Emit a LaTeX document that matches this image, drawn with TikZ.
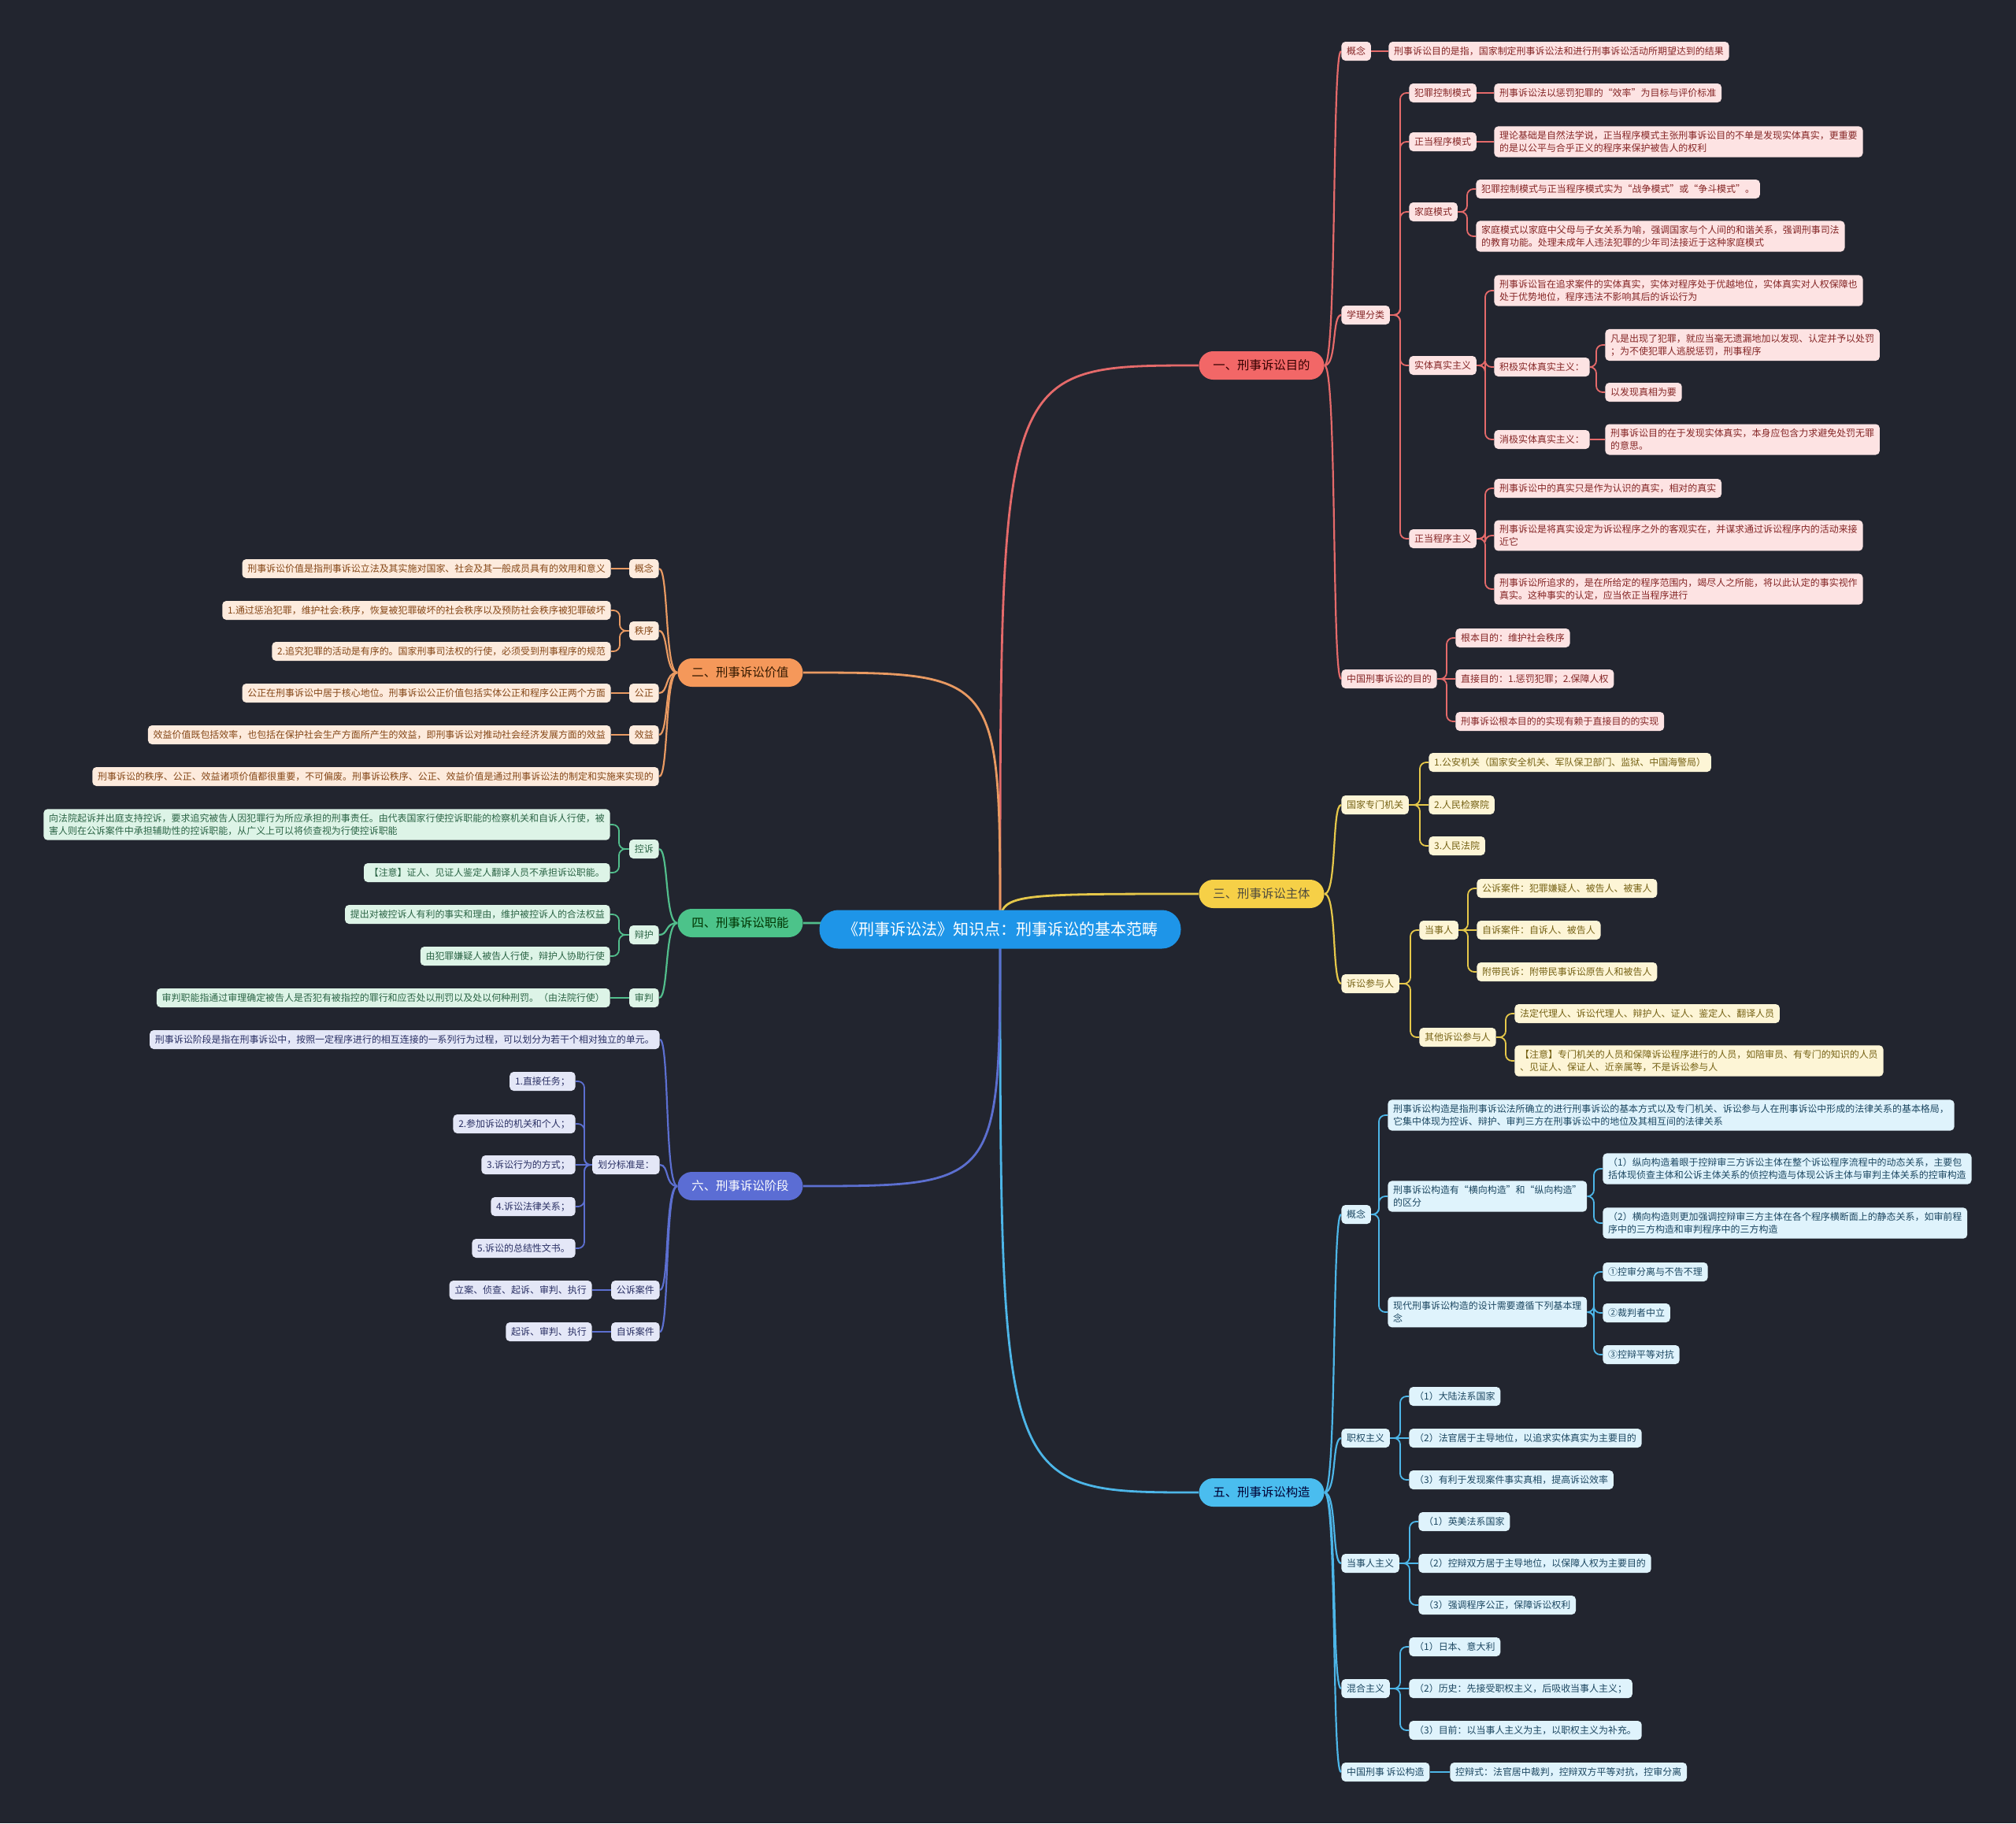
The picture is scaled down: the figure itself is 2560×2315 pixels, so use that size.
\documentclass[tikz,border=0pt]{standalone}
\usepackage{fontspec}
\setmainfont{Noto Sans CJK SC}
\usetikzlibrary{calc}
\pgfdeclarelayer{back}
\pgfdeclarelayer{bg}
\pgfsetlayers{back,bg,main}
\definecolor{bgc}{HTML}{22252F}
\definecolor{rootc}{HTML}{1E95E8}
\definecolor{rmain}{HTML}{F26767}\definecolor{rfill}{HTML}{FDE3E3}\definecolor{rtext}{HTML}{852626}\definecolor{rline}{HTML}{E56A6A}
\definecolor{omain}{HTML}{F5985A}\definecolor{ofill}{HTML}{FDEBDD}\definecolor{otext}{HTML}{854717}\definecolor{oline}{HTML}{E99A62}
\definecolor{ymain}{HTML}{F6D047}\definecolor{yfill}{HTML}{FDF5D6}\definecolor{ytext}{HTML}{766215}\definecolor{yline}{HTML}{E6C84A}
\definecolor{gmain}{HTML}{4CC38A}\definecolor{gfill}{HTML}{DDF4E7}\definecolor{gtext}{HTML}{2B6445}\definecolor{gline}{HTML}{52BE8C}
\definecolor{bmain}{HTML}{4ABDEF}\definecolor{bfill}{HTML}{DFF3FC}\definecolor{btext}{HTML}{1C4761}\definecolor{bline}{HTML}{4DB6E8}
\definecolor{pmain}{HTML}{5B6DD4}\definecolor{pfill}{HTML}{E4E7F7}\definecolor{ptext}{HTML}{2A3064}\definecolor{pline}{HTML}{5C6FD0}
\tikzset{
  lf/.style={rounded corners=2.5pt, inner xsep=3.4pt, inner ysep=3pt, minimum height=12pt, align=left, font=\fontsize{5.98}{8}\selectfont},
  rl/.style={lf, fill=rfill, text=rtext},
  ol/.style={lf, fill=ofill, text=otext},
  yl/.style={lf, fill=yfill, text=ytext},
  gl/.style={lf, fill=gfill, text=gtext},
  bl/.style={lf, fill=bfill, text=btext},
  pl/.style={lf, fill=pfill, text=ptext},
  mainnode/.style={rounded corners=9pt, minimum width=79.5pt, minimum height=18pt, inner sep=0pt, font=\fontsize{7.7}{9}\selectfont},
  rootnode/.style={rounded corners=12pt, minimum width=229.5pt, minimum height=24.5pt, inner sep=0pt, fill=rootc, text=white, font=\fontsize{10}{12}\selectfont},
  cn/.style={line width=0.9pt, rounded corners=4pt},
  mc/.style={line width=1.1pt},
  rc/.style={line width=1.4pt}
}
\newcommand\rlnk[3]{\draw[cn,#1] (#2.east) -| ($(#3.west)+(-11,0)$) -- (#3.west);}
\newcommand\llnk[3]{\draw[cn,#1] (#2.west) -| ($(#3.east)+(11,0)$) -- (#3.east);}
\newcommand\rstr[3]{\draw[cn,#1] (#2.east) -- (#3.west);}
\newcommand\lstr[3]{\draw[cn,#1] (#2.west) -- (#3.east);}
\newcommand\rcur[3]{\draw[mc,#1] (#2.east) .. controls +(16,0) and +(-12,0) .. (#3.west);}
\newcommand\lcur[3]{\draw[mc,#1] (#2.west) .. controls +(-16,0) and +(12,0) .. (#3.east);}
\begin{document}
\begin{tikzpicture}[x=0.5pt,y=-0.5pt]
\begin{pgfonlayer}{back}
\fill[bgc] (0,0) rectangle (2560,2315);
\end{pgfonlayer}
\useasboundingbox (0,0) rectangle (2560,2315);

% root and main nodes
\node[rootnode] (root) at (1270,1180) {《刑事诉讼法》知识点：刑事诉讼的基本范畴};
\node[mainnode, fill=rmain, text=black!80!red] (m1) at (1602,464) {一、刑事诉讼目的};
\node[mainnode, fill=omain, text=black!80!orange] (m2) at (940,854) {二、刑事诉讼价值};
\node[mainnode, fill=ymain, text=black!80!yellow] (m3) at (1602,1135) {三、刑事诉讼主体};
\node[mainnode, fill=gmain, text=black!80!green] (m4) at (940,1172) {四、刑事诉讼职能};
\node[mainnode, fill=bmain, text=black!80!blue] (m5) at (1602,1895) {五、刑事诉讼构造};
\node[mainnode, fill=pmain, text=white] (m6) at (940,1506) {六、刑事诉讼阶段};

% ---------- red branch ----------
\node[rl, anchor=west] (r1) at (1703,65) {概念};
\node[rl, anchor=west] (r1a) at (1763,65) {刑事诉讼目的是指，国家制定刑事诉讼法和进行刑事诉讼活动所期望达到的结果};
\node[rl, anchor=west] (r2) at (1703,400) {学理分类};
\node[rl, anchor=west] (r21) at (1789,118) {犯罪控制模式};
\node[rl, anchor=west] (r21a) at (1897,118) {刑事诉讼法以惩罚犯罪的“效率”为目标与评价标准};
\node[rl, anchor=west] (r22) at (1789,180) {正当程序模式};
\node[rl, anchor=west] (r22a) at (1897,180) {理论基础是自然法学说，正当程序模式主张刑事诉讼目的不单是发现实体真实，更重要\\的是以公平与合乎正义的程序来保护被告人的权利};
\node[rl, anchor=west] (r23) at (1789,269) {家庭模式};
\node[rl, anchor=west] (r23a) at (1874,240) {犯罪控制模式与正当程序模式实为“战争模式”或“争斗模式”。};
\node[rl, anchor=west] (r23b) at (1874,300) {家庭模式以家庭中父母与子女关系为喻，强调国家与个人间的和谐关系，强调刑事司法\\的教育功能。处理未成年人违法犯罪的少年司法接近于这种家庭模式};
\node[rl, anchor=west] (r24) at (1789,464) {实体真实主义};
\node[rl, anchor=west] (r24a) at (1897,369) {刑事诉讼旨在追求案件的实体真实，实体对程序处于优越地位，实体真实对人权保障也\\处于优势地位，程序违法不影响其后的诉讼行为};
\node[rl, anchor=west] (r24b) at (1897,466) {积极实体真实主义：};
\node[rl, anchor=west] (r24b1) at (2038,438) {凡是出现了犯罪，就应当毫无遗漏地加以发现、认定并予以处罚\\；为不使犯罪人逃脱惩罚，刑事程序};
\node[rl, anchor=west] (r24b2) at (2038,498) {以发现真相为要};
\node[rl, anchor=west] (r24c) at (1897,558) {消极实体真实主义：};
\node[rl, anchor=west] (r24c1) at (2038,558) {刑事诉讼目的在于发现实体真实，本身应包含力求避免处罚无罪\\的意思。};
\node[rl, anchor=west] (r25) at (1789,684) {正当程序主义};
\node[rl, anchor=west] (r25a) at (1897,620) {刑事诉讼中的真实只是作为认识的真实，相对的真实};
\node[rl, anchor=west] (r25b) at (1897,680) {刑事诉讼是将真实设定为诉讼程序之外的客观实在，并谋求通过诉讼程序内的活动来接\\近它};
\node[rl, anchor=west] (r25c) at (1897,748) {刑事诉讼所追求的，是在所给定的程序范围内，竭尽人之所能，将以此认定的事实视作\\真实。这种事实的认定，应当依正当程序进行};
\node[rl, anchor=west] (r3) at (1703,862) {中国刑事诉讼的目的};
\node[rl, anchor=west] (r3a) at (1848,810) {根本目的：维护社会秩序};
\node[rl, anchor=west] (r3b) at (1848,862) {直接目的：1.惩罚犯罪；2.保障人权};
\node[rl, anchor=west] (r3c) at (1848,916) {刑事诉讼根本目的的实现有赖于直接目的的实现};

% ---------- yellow branch ----------
\node[yl, anchor=west] (y1) at (1703,1022) {国家专门机关};
\node[yl, anchor=west] (y1a) at (1814,968) {1.公安机关（国家安全机关、军队保卫部门、监狱、中国海警局）};
\node[yl, anchor=west] (y1b) at (1814,1022) {2.人民检察院};
\node[yl, anchor=west] (y1c) at (1814,1074) {3.人民法院};
\node[yl, anchor=west] (y2) at (1703,1249) {诉讼参与人};
\node[yl, anchor=west] (y21) at (1802,1181) {当事人};
\node[yl, anchor=west] (y21a) at (1875,1128) {公诉案件：犯罪嫌疑人、被告人、被害人};
\node[yl, anchor=west] (y21b) at (1875,1181) {自诉案件：自诉人、被告人};
\node[yl, anchor=west] (y21c) at (1875,1234) {附带民诉：附带民事诉讼原告人和被告人};
\node[yl, anchor=west] (y22) at (1802,1317) {其他诉讼参与人};
\node[yl, anchor=west] (y22a) at (1923,1287) {法定代理人、诉讼代理人、辩护人、证人、鉴定人、翻译人员};
\node[yl, anchor=west] (y22b) at (1923,1347) {【注意】专门机关的人员和保障诉讼程序进行的人员，如陪审员、有专门的知识的人员\\、见证人、保证人、近亲属等，不是诉讼参与人};

% ---------- blue branch ----------
\node[bl, anchor=west] (b1) at (1703,1542) {概念};
\node[bl, anchor=west] (b1a) at (1762,1416) {刑事诉讼构造是指刑事诉讼法所确立的进行刑事诉讼的基本方式以及专门机关、诉讼参与人在刑事诉讼中形成的法律关系的基本格局，\\它集中体现为控诉、辩护、审判三方在刑事诉讼中的地位及其相互间的法律关系};
\node[bl, anchor=west] (b1b) at (1762,1519) {刑事诉讼构造有“横向构造”和“纵向构造”\\的区分};
\node[bl, anchor=west] (b1b1) at (2035,1484) {（1）纵向构造着眼于控辩审三方诉讼主体在整个诉讼程序流程中的动态关系，主要包\\括体现侦查主体和公诉主体关系的侦控构造与体现公诉主体与审判主体关系的控审构造};
\node[bl, anchor=west] (b1b2) at (2035,1553) {（2）横向构造则更加强调控辩审三方主体在各个程序横断面上的静态关系，如审前程\\序中的三方构造和审判程序中的三方构造};
\node[bl, anchor=west] (b1c) at (1762,1666) {现代刑事诉讼构造的设计需要遵循下列基本理\\念};
\node[bl, anchor=west] (b1c1) at (2035,1615) {①控审分离与不告不理};
\node[bl, anchor=west] (b1c2) at (2035,1667) {②裁判者中立};
\node[bl, anchor=west] (b1c3) at (2035,1720) {③控辩平等对抗};
\node[bl, anchor=west] (b2) at (1703,1826) {职权主义};
\node[bl, anchor=west] (b2a) at (1789,1773) {（1）大陆法系国家};
\node[bl, anchor=west] (b2b) at (1789,1826) {（2）法官居于主导地位，以追求实体真实为主要目的};
\node[bl, anchor=west] (b2c) at (1789,1879) {（3）有利于发现案件事实真相，提高诉讼效率};
\node[bl, anchor=west] (b3) at (1703,1985) {当事人主义};
\node[bl, anchor=west] (b3a) at (1801,1932) {（1）英美法系国家};
\node[bl, anchor=west] (b3b) at (1801,1985) {（2）控辩双方居于主导地位，以保障人权为主要目的};
\node[bl, anchor=west] (b3c) at (1801,2038) {（3）强调程序公正，保障诉讼权利};
\node[bl, anchor=west] (b4) at (1703,2144) {混合主义};
\node[bl, anchor=west] (b4a) at (1789,2091) {（1）日本、意大利};
\node[bl, anchor=west] (b4b) at (1789,2144) {（2）历史：先接受职权主义，后吸收当事人主义；};
\node[bl, anchor=west] (b4c) at (1789,2197) {（3）目前：以当事人主义为主，以职权主义为补充。};
\node[bl, anchor=west] (b5) at (1703,2250) {中国刑事 诉讼构造};
\node[bl, anchor=west] (b5a) at (1841,2250) {控辩式：法官居中裁判，控辩双方平等对抗，控审分离};

% ---------- orange branch ----------
\node[ol, anchor=east] (o1) at (837,722) {概念};
\node[ol, anchor=east] (o1a) at (776,722) {刑事诉讼价值是指刑事诉讼立法及其实施对国家、社会及其一般成员具有的效用和意义};
\node[ol, anchor=east] (o2) at (837,801) {秩序};
\node[ol, anchor=east] (o2a) at (776,775) {1.通过惩治犯罪，维护社会:秩序，恢复被犯罪破坏的社会秩序以及预防社会秩序被犯罪破坏};
\node[ol, anchor=east] (o2b) at (776,827) {2.追究犯罪的活动是有序的。国家刑事司法权的行使，必须受到刑事程序的规范};
\node[ol, anchor=east] (o3) at (837,880) {公正};
\node[ol, anchor=east] (o3a) at (776,880) {公正在刑事诉讼中居于核心地位。刑事诉讼公正价值包括实体公正和程序公正两个方面};
\node[ol, anchor=east] (o4) at (837,933) {效益};
\node[ol, anchor=east] (o4a) at (776,933) {效益价值既包括效率，也包括在保护社会生产方面所产生的效益，即刑事诉讼对推动社会经济发展方面的效益};
\node[ol, anchor=east] (o5) at (837,986) {刑事诉讼的秩序、公正、效益诸项价值都很重要，不可偏废。刑事诉讼秩序、公正、效益价值是通过刑事诉讼法的制定和实施来实现的};

% ---------- green branch ----------
\node[gl, anchor=east] (g1) at (837,1078) {控诉};
\node[gl, anchor=east] (g1a) at (775,1047) {向法院起诉并出庭支持控诉，要求追究被告人因犯罪行为所应承担的刑事责任。由代表国家行使控诉职能的检察机关和自诉人行使，被\\害人则在公诉案件中承担辅助性的控诉职能，从广义上可以将侦查视为行使控诉职能};
\node[gl, anchor=east] (g1b) at (775,1108) {【注意】证人、见证人鉴定人翻译人员不承担诉讼职能。};
\node[gl, anchor=east] (g2) at (837,1187) {辩护};
\node[gl, anchor=east] (g2a) at (775,1161) {提出对被控诉人有利的事实和理由，维护被控诉人的合法权益};
\node[gl, anchor=east] (g2b) at (775,1214) {由犯罪嫌疑人被告人行使，辩护人协助行使};
\node[gl, anchor=east] (g3) at (837,1267) {审判};
\node[gl, anchor=east] (g3a) at (775,1267) {审判职能指通过审理确定被告人是否犯有被指控的罪行和应否处以刑罚以及处以何种刑罚。（由法院行使）};

% ---------- purple branch ----------
\node[pl, anchor=east] (p1) at (838,1320) {刑事诉讼阶段是指在刑事诉讼中，按照一定程序进行的相互连接的一系列行为过程，可以划分为若干个相对独立的单元。};
\node[pl, anchor=east] (p2) at (838,1479) {划分标准是：};
\node[pl, anchor=east] (p2a) at (731,1373) {1.直接任务；};
\node[pl, anchor=east] (p2b) at (731,1427) {2.参加诉讼的机关和个人；};
\node[pl, anchor=east] (p2c) at (731,1479) {3.诉讼行为的方式；};
\node[pl, anchor=east] (p2d) at (731,1532) {4.诉讼法律关系；};
\node[pl, anchor=east] (p2e) at (731,1585) {5.诉讼的总结性文书。};
\node[pl, anchor=east] (p3) at (838,1638) {公诉案件};
\node[pl, anchor=east] (p3a) at (752,1638) {立案、侦查、起诉、审判、执行};
\node[pl, anchor=east] (p4) at (838,1691) {自诉案件};
\node[pl, anchor=east] (p4a) at (752,1691) {起诉、审判、执行};

% ---------- connectors ----------
\begin{pgfonlayer}{bg}
\draw[rc, rline] (root.center) .. controls (root.center |- m1.west) and (root.center |- m1.west) .. (m1.west);
\draw[rc, yline] (root.center) .. controls (root.center |- m3.west) and (root.center |- m3.west) .. (m3.west);
\draw[rc, bline] (root.center) .. controls (root.center |- m5.west) and (root.center |- m5.west) .. (m5.west);
\draw[rc, oline] (root.center) .. controls (root.center |- m2.east) and (root.center |- m2.east) .. (m2.east);
\draw[rc, gline] (root.center) .. controls (root.center |- m4.east) and (root.center |- m4.east) .. (m4.east);
\draw[rc, pline] (root.center) .. controls (root.center |- m6.east) and (root.center |- m6.east) .. (m6.east);
% red
\rcur{rline}{m1}{r1}\rcur{rline}{m1}{r2}\rcur{rline}{m1}{r3}
\rstr{rline}{r1}{r1a}
\rlnk{rline}{r2}{r21}\rlnk{rline}{r2}{r22}\rlnk{rline}{r2}{r23}\rlnk{rline}{r2}{r24}\rlnk{rline}{r2}{r25}
\rstr{rline}{r21}{r21a}\rstr{rline}{r22}{r22a}
\rlnk{rline}{r23}{r23a}\rlnk{rline}{r23}{r23b}
\rlnk{rline}{r24}{r24a}\rlnk{rline}{r24}{r24b}\rlnk{rline}{r24}{r24c}
\rlnk{rline}{r24b}{r24b1}\rlnk{rline}{r24b}{r24b2}\rstr{rline}{r24c}{r24c1}
\rlnk{rline}{r25}{r25a}\rlnk{rline}{r25}{r25b}\rlnk{rline}{r25}{r25c}
\rlnk{rline}{r3}{r3a}\rstr{rline}{r3}{r3b}\rlnk{rline}{r3}{r3c}
% yellow
\rcur{yline}{m3}{y1}\rcur{yline}{m3}{y2}
\rlnk{yline}{y1}{y1a}\rstr{yline}{y1}{y1b}\rlnk{yline}{y1}{y1c}
\rlnk{yline}{y2}{y21}\rlnk{yline}{y2}{y22}
\rlnk{yline}{y21}{y21a}\rstr{yline}{y21}{y21b}\rlnk{yline}{y21}{y21c}
\rlnk{yline}{y22}{y22a}\rlnk{yline}{y22}{y22b}
% blue
\rcur{bline}{m5}{b1}\rcur{bline}{m5}{b2}\rcur{bline}{m5}{b3}\rcur{bline}{m5}{b4}\rcur{bline}{m5}{b5}
\rlnk{bline}{b1}{b1a}\rlnk{bline}{b1}{b1b}\rlnk{bline}{b1}{b1c}
\rlnk{bline}{b1b}{b1b1}\rlnk{bline}{b1b}{b1b2}
\rlnk{bline}{b1c}{b1c1}\rlnk{bline}{b1c}{b1c2}\rlnk{bline}{b1c}{b1c3}
\rlnk{bline}{b2}{b2a}\rstr{bline}{b2}{b2b}\rlnk{bline}{b2}{b2c}
\rlnk{bline}{b3}{b3a}\rstr{bline}{b3}{b3b}\rlnk{bline}{b3}{b3c}
\rlnk{bline}{b4}{b4a}\rstr{bline}{b4}{b4b}\rlnk{bline}{b4}{b4c}
\rstr{bline}{b5}{b5a}
% orange
\lcur{oline}{m2}{o1}\lcur{oline}{m2}{o2}\lcur{oline}{m2}{o3}\lcur{oline}{m2}{o4}\lcur{oline}{m2}{o5}
\lstr{oline}{o1}{o1a}\llnk{oline}{o2}{o2a}\llnk{oline}{o2}{o2b}\lstr{oline}{o3}{o3a}\lstr{oline}{o4}{o4a}
% green
\lcur{gline}{m4}{g1}\lcur{gline}{m4}{g2}\lcur{gline}{m4}{g3}
\llnk{gline}{g1}{g1a}\llnk{gline}{g1}{g1b}\llnk{gline}{g2}{g2a}\llnk{gline}{g2}{g2b}\lstr{gline}{g3}{g3a}
% purple
\lcur{pline}{m6}{p1}\lcur{pline}{m6}{p2}\lcur{pline}{m6}{p3}\lcur{pline}{m6}{p4}
\llnk{pline}{p2}{p2a}\llnk{pline}{p2}{p2b}\lstr{pline}{p2}{p2c}\llnk{pline}{p2}{p2d}\llnk{pline}{p2}{p2e}
\lstr{pline}{p3}{p3a}\lstr{pline}{p4}{p4a}
\end{pgfonlayer}
\end{tikzpicture}
\end{document}
